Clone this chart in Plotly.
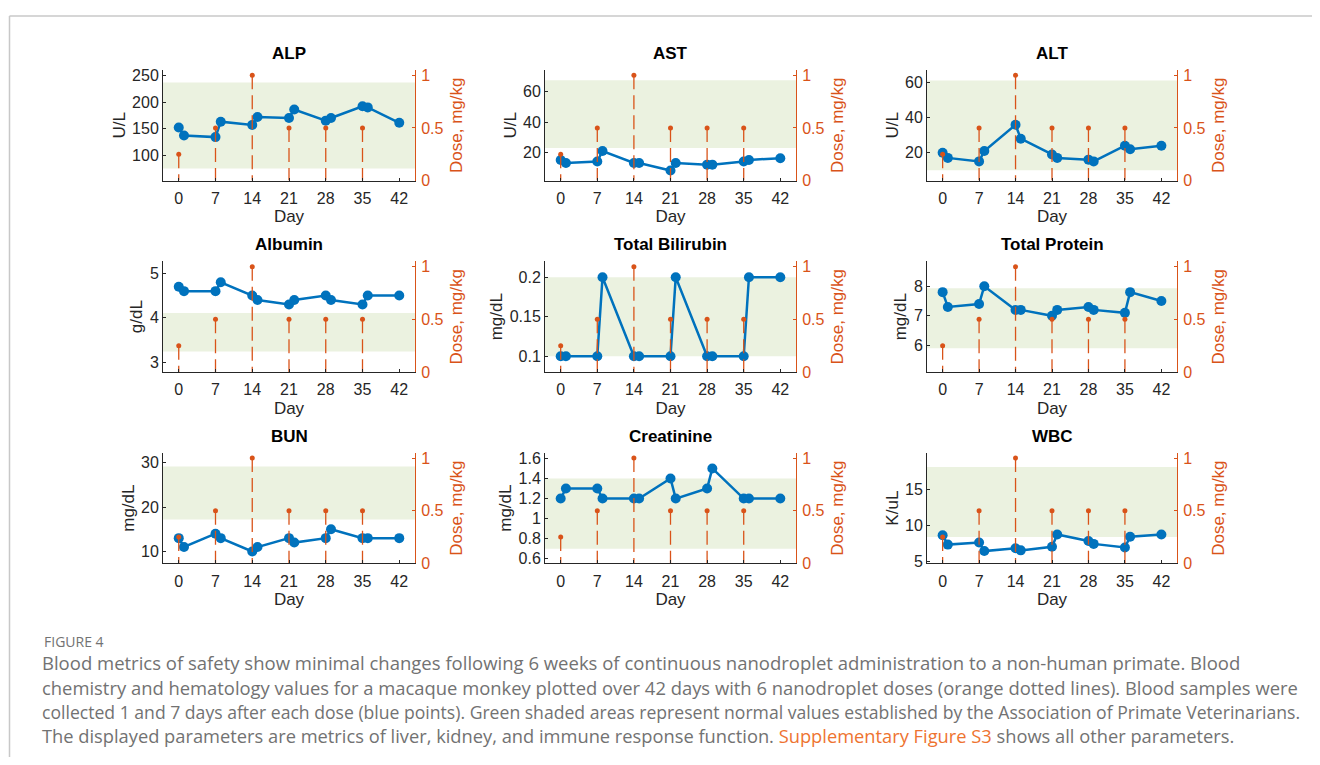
import plotly.graph_objects as go

# ---------------- data ----------------
days = [0, 1, 7, 8, 14, 15, 21, 22, 28, 29, 35, 36, 42]
day_ticks = [0, 7, 14, 21, 28, 35, 42]
dose_days = [0, 7, 14, 21, 28, 35]
dose_mg_kg = [0.25, 0.5, 1.0, 0.5, 0.5, 0.5]

titles = ["ALP", "AST", "ALT", "Albumin", "Total Bilirubin", "Total Protein",
          "BUN", "Creatinine", "WBC"]
units = ["U/L", "U/L", "U/L", "g/dL", "mg/dL", "mg/dL", "mg/dL", "mg/dL", "K/uL"]

alp = [152, 137, 134, 163, 157, 172, 170, 186, 165, 170, 192, 190, 161]
ast = [15.2, 13.2, 14.2, 21.1, 13.2, 13.2, 8.2, 13.2, 12.1, 12.1, 14.2, 15.2, 16.3]
alt = [20, 17, 15, 21, 36, 28, 19, 17, 16, 15, 24, 22, 24]
albumin = [4.7, 4.6, 4.6, 4.8, 4.5, 4.4, 4.3, 4.4, 4.5, 4.4, 4.3, 4.5, 4.5]
bilirubin = [0.1, 0.1, 0.1, 0.2, 0.1, 0.1, 0.1, 0.2, 0.1, 0.1, 0.1, 0.2, 0.2]
protein = [7.8, 7.3, 7.4, 8.0, 7.2, 7.2, 7.0, 7.2, 7.3, 7.2, 7.1, 7.8, 7.5]
bun = [13, 11, 14, 13, 10, 11, 13, 12, 13, 15, 13, 13, 13]
creatinine = [1.2, 1.3, 1.3, 1.2, 1.2, 1.2, 1.4, 1.2, 1.3, 1.5, 1.2, 1.2, 1.2]
wbc = [8.6, 7.3, 7.6, 6.4, 6.8, 6.5, 7.0, 8.7, 7.8, 7.4, 6.9, 8.4, 8.7]

values = [alp, ast, alt, albumin, bilirubin, protein, bun, creatinine, wbc]

# normal ranges (Association of Primate Veterinarians)
normal_low = [75, 23, 10, 3.24, 0.1, 5.9, 17.2, 0.7, 8.35]
normal_high = [237, 67.6, 61.3, 4.11, 0.2, 7.93, 29.1, 1.4, 18.1]

# left axis tick values
yticks = [[100, 150, 200, 250], [20, 40, 60], [20, 40, 60], [3, 4, 5],
          [0.1, 0.15, 0.2], [6, 7, 8], [10, 20, 30],
          [0.6, 0.8, 1.0, 1.2, 1.4, 1.6], [5, 10, 15]]
dose_ticks = [0, 0.5, 1]

# ---------------- layout constants ----------------
OFF = 8                       # default body margin of the html page
SY = 765 / 775                # vertical scale of the photographed viewport
W, H = 1304, 758

def px(x):
    return (x - OFF) / W

def py(y):
    return 1 - (y / SY - OFF) / H

col_x = [(163, 415), (545, 796), (927, 1177)]
row_y = [(67, 178), (259, 370), (451, 562)]
yranges = [[52, 260.6], [1.6, 74.4], [4, 67.4], [2.78, 5.27], [0.08, 0.22],
           [5.1, 8.84], [7.3, 32.2], [0.554, 1.656], [4.68, 20.07]]

BLUE = "#0072BD"
ORANGE = "#D95319"
GREEN = "#EBF2E0"
AXC = "#262626"
FONT = "Liberation Sans, Arial, Helvetica, sans-serif"

def fmt(v):
    return ("%g" % v)

fig = go.Figure()
layout = {}
shapes = []
annotations = []

for i in range(9):
    n = i + 1
    r, c = divmod(i, 3)
    x0, x1 = col_x[c]
    yt, yb = row_y[r]
    xname = "x" if n == 1 else f"x{n}"
    yl = 2 * n - 1
    yr = 2 * n
    ylname = "y" if yl == 1 else f"y{yl}"
    yrname = f"y{yr}"

    # blue data line
    fig.add_trace(go.Scatter(
        x=days, y=values[i], xaxis=xname, yaxis=ylname, mode="lines+markers",
        line=dict(color=BLUE, width=2.5),
        marker=dict(color=BLUE, size=10), showlegend=False, hoverinfo="x+y"))

    # dose stems (dashed, from dose down to zero)
    sx, sy = [], []
    for d, v in zip(dose_days, dose_mg_kg):
        sx += [d, d, None]
        sy += [v, 0, None]
    fig.add_trace(go.Scatter(
        x=sx, y=sy, xaxis=xname, yaxis=yrname, mode="lines",
        line=dict(color=ORANGE, width=1.3, dash="14px,6px"),
        showlegend=False, hoverinfo="skip"))
    fig.add_trace(go.Scatter(
        x=dose_days, y=dose_mg_kg, xaxis=xname, yaxis=yrname, mode="markers",
        marker=dict(color=ORANGE, size=5), showlegend=False, hoverinfo="x+y"))

    # normal range band
    shapes.append(dict(type="rect", xref=f"{xname} domain", yref=ylname,
                       x0=0, x1=1, y0=normal_low[i], y1=normal_high[i],
                       fillcolor=GREEN, line=dict(width=0), layer="below"))

    xd = [px(x0), px(x1)]
    yd = [py(yb), py(yt)]
    xkey = "xaxis" if n == 1 else f"xaxis{n}"
    ylkey = "yaxis" if yl == 1 else f"yaxis{yl}"
    yrkey = f"yaxis{yr}"

    layout[xkey] = dict(
        domain=xd, anchor=ylname, range=[-3, 45], tickvals=day_ticks,
        ticktext=[str(t) for t in day_ticks],
        showline=True, linecolor=AXC, linewidth=1, ticks="inside", ticklen=3,
        tickcolor=AXC, tickfont=dict(size=16, color=AXC, family=FONT),
        ticklabelstandoff=3,
        title=dict(text="Day", font=dict(size=17, color=AXC, family=FONT), standoff=4),
        showgrid=False, zeroline=False, fixedrange=True)
    layout[ylkey] = dict(
        domain=yd, anchor=xname, range=yranges[i], tickvals=yticks[i],
        ticktext=[fmt(t) for t in yticks[i]],
        showline=True, linecolor=AXC, linewidth=1, ticks="inside", ticklen=3,
        tickcolor=AXC, tickfont=dict(size=16, color=AXC, family=FONT),
        ticklabelstandoff=0,
        title=dict(text=units[i], font=dict(size=17, color=AXC, family=FONT), standoff=2),
        showgrid=False, zeroline=False, fixedrange=True)
    layout[yrkey] = dict(
        overlaying=ylname, anchor=xname, side="right", range=[0, 1.05],
        tickvals=dose_ticks, ticktext=[fmt(t) for t in dose_ticks],
        showline=True, linecolor=ORANGE, linewidth=1, ticks="inside", ticklen=3,
        tickcolor=ORANGE, tickfont=dict(size=16, color=ORANGE, family=FONT),
        ticklabelstandoff=2,
        title=dict(text="Dose, mg/kg", font=dict(size=17, color=ORANGE, family=FONT), standoff=7),
        showgrid=False, zeroline=False, fixedrange=True)

    annotations.append(dict(
        text=f"<b>{titles[i]}</b>", xref="paper", yref="paper",
        x=px((x0 + x1) / 2), y=py(yt - 5), xanchor="center", yanchor="bottom",
        showarrow=False, font=dict(size=17, color="#000000", family=FONT)))

# frame lines
shapes.append(dict(type="line", xref="paper", yref="paper",
                   x0=px(9.5), x1=1.0, y0=py(13), y1=py(13),
                   line=dict(color="#C8C8C8", width=1.5)))
shapes.append(dict(type="line", xref="paper", yref="paper",
                   x0=px(9.5), x1=px(9.5), y0=py(13), y1=0,
                   line=dict(color="#C8C8C8", width=1.5)))

# caption
CAP = "Open Sans, Lato, sans-serif"
CAPC = "#727272"
LINK = "#EE7330"
caption_label = "FIGURE 4"
caption_lines = [
    "Blood metrics of safety show minimal changes following 6 weeks of continuous nanodroplet administration to a non-human primate. Blood",
    "chemistry and hematology values for a macaque monkey plotted over 42 days with 6 nanodroplet doses (orange dotted lines). Blood samples were",
    "collected 1 and 7 days after each dose (blue points). Green shaded areas represent normal values established by the Association of Primate Veterinarians.",
    "The displayed parameters are metrics of liver, kidney, and immune response function. "
    f"<span style='color:{LINK}'>Supplementary Figure S3</span> shows all other parameters.",
]
caption_y = [661, 686, 711, 735]
caption_size = [18.5, 18.4, 17.6, 18.3]

annotations.append(dict(text=caption_label, xref="paper", yref="paper",
                        x=px(42), y=py(640), xanchor="left", yanchor="middle",
                        showarrow=False, font=dict(size=14, color=CAPC, family=CAP)))
for t, yy, fs in zip(caption_lines, caption_y, caption_size):
    annotations.append(dict(text=t, xref="paper", yref="paper",
                            x=px(40), y=py(yy), xanchor="left", yanchor="middle",
                            showarrow=False, font=dict(size=fs, color=CAPC, family=CAP)))

fig.update_layout(
    width=W, height=H, autosize=False,
    margin=dict(l=0, r=0, t=0, b=0),
    paper_bgcolor="white", plot_bgcolor="rgba(0,0,0,0)",
    shapes=shapes, annotations=annotations, showlegend=False,
    **layout)

fig.write_html("out.html", config={"displayModeBar": False})
